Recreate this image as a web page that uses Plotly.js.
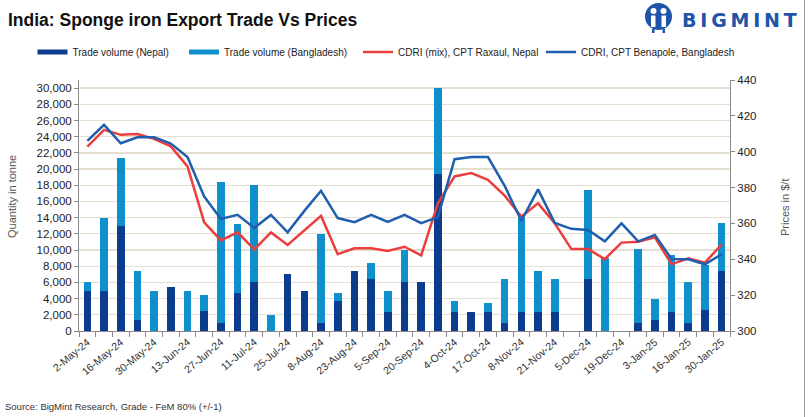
<!DOCTYPE html>
<html>
<head>
<meta charset="utf-8">
<script src="https://cdn.plot.ly/plotly-3.0.1.min.js"></script>
<style>
  html, body { margin: 0; padding: 0; background: #ffffff; }
  #chart { width: 810px; height: 417px; }
</style>
</head>
<body>
<div id="chart"></div>
<script>
// ---------------- data ----------------
const categories = ['2-May-24','9-May-24','16-May-24','23-May-24','30-May-24','6-Jun-24','13-Jun-24','20-Jun-24','27-Jun-24','4-Jul-24','11-Jul-24','18-Jul-24','25-Jul-24','1-Aug-24','8-Aug-24','16-Aug-24','23-Aug-24','30-Aug-24','5-Sep-24','12-Sep-24','20-Sep-24','27-Sep-24','4-Oct-24','10-Oct-24','17-Oct-24','25-Oct-24','8-Nov-24','14-Nov-24','21-Nov-24','28-Nov-24','5-Dec-24','12-Dec-24','19-Dec-24','26-Dec-24','3-Jan-25','9-Jan-25','16-Jan-25','23-Jan-25','30-Jan-25'];

const tickLabels = ['2-May-24','','16-May-24','','30-May-24','','13-Jun-24','','27-Jun-24','','11-Jul-24','','25-Jul-24','','8-Aug-24','','23-Aug-24','','5-Sep-24','','20-Sep-24','','4-Oct-24','','17-Oct-24','','8-Nov-24','','21-Nov-24','','5-Dec-24','','19-Dec-24','','3-Jan-25','','16-Jan-25','','30-Jan-25'];

const volumeNepal = [5000,5000,13000,1400,0,5400,0,2450,1000,4700,6000,0,7000,5000,1000,3700,7400,6400,2400,6000,6000,19400,2400,2400,2400,1000,2400,2400,2400,0,6400,0,0,1000,1400,2400,1000,2600,7400];

const volumeBangladesh = [1000,9000,8400,6000,5000,0,5000,2000,17450,8500,12000,2000,0,0,11000,1000,0,2000,2600,4000,0,10600,1300,0,1000,5400,11600,5000,4000,0,11000,9000,0,9100,2600,7000,5000,5600,6000];

const priceNepal = [402.8,412.2,409.4,409.9,407.2,403,391.8,360.6,350.5,355,345.5,355,348,356.1,364.2,342.8,346.1,346.1,344.6,347,342.2,371.2,386.2,388.1,384.3,375.5,363.8,371.2,360.1,345.7,345.7,340.1,349.3,349.8,352.2,337.2,340.5,338.1,348.3];

const priceBangladesh = [406,415,404.7,408,408,404.5,397,375,362.5,364.8,357.5,364.7,355,367,378.2,363,360.7,364.8,360.8,364.8,360.2,363.5,395.8,397,397,381,361.5,379,360.3,357,356.3,350,360,350,353.6,340.1,340,337.2,342.8];

// ---------------- styling ----------------
const FONT = 'Liberation Sans, Arial, sans-serif';
const C_NEPAL = '#0b3c8e';
const C_BD = '#0f8fcc';
const C_RED = '#ea3f3c';
const C_BLUE = '#1f5fad';

const W = 810, H = 417, ML = 79, MR = 80, MT = 80, MB = 86;
const PW = W - ML - MR, PH = H - MT - MB;
const px = x => (x - ML) / PW;
const py = y => 1 - (y - MT) / PH;

const traces = [
  { type: 'bar', x: categories, y: volumeNepal, name: 'Trade volume (Nepal)', marker: { color: C_NEPAL }, showlegend: false, yaxis: 'y' },
  { type: 'bar', x: categories, y: volumeBangladesh, name: 'Trade volume (Bangladesh)', marker: { color: C_BD }, showlegend: false, yaxis: 'y' },
  { type: 'scatter', mode: 'lines', x: categories, y: priceNepal, name: 'CDRI (mix), CPT Raxaul, Nepal', line: { color: C_RED, width: 2.5 }, yaxis: 'y2', legend: 'legend3' },
  { type: 'scatter', mode: 'lines', x: categories, y: priceBangladesh, name: 'CDRI, CPT Benapole, Bangladesh', line: { color: C_BLUE, width: 2.5 }, yaxis: 'y2', legend: 'legend4' },
  // legend swatches for the bar series
  { type: 'scatter', mode: 'lines', x: [null], y: [null], name: 'Trade volume (Nepal)', line: { color: C_NEPAL, width: 5 }, legend: 'legend', hoverinfo: 'skip' },
  { type: 'scatter', mode: 'lines', x: [null], y: [null], name: 'Trade volume (Bangladesh)', line: { color: C_BD, width: 5 }, legend: 'legend2', hoverinfo: 'skip' }
];

function mkLegend(xText) {
  return {
    orientation: 'h', x: px(xText - 40), xanchor: 'left', y: py(52), yanchor: 'middle',
    font: { family: FONT, size: 10, color: '#222' }, bgcolor: 'rgba(0,0,0,0)', itemwidth: 30,
    itemclick: false, itemdoubleclick: false
  };
}

const shapes = [
  // outer right border
  { type: 'line', xref: 'paper', yref: 'paper', x0: px(804.5), x1: px(804.5), y0: py(0), y1: py(417), line: { color: '#9a9a9a', width: 1 } },
  // logo icon
  { type: 'circle', xref: 'paper', yref: 'paper', x0: px(645), x1: px(672), y0: py(3), y1: py(30), fillcolor: '#1f55a8', line: { width: 0 } },
  { type: 'circle', xref: 'paper', yref: 'paper', x0: px(650.5), x1: px(656.5), y0: py(8), y1: py(14), fillcolor: '#ffffff', line: { width: 0 } },
  { type: 'circle', xref: 'paper', yref: 'paper', x0: px(660.5), x1: px(666.5), y0: py(8), y1: py(14), fillcolor: '#ffffff', line: { width: 0 } },
  { type: 'rect', xref: 'paper', yref: 'paper', x0: px(651), x1: px(655.5), y0: py(15.5), y1: py(27), fillcolor: '#ffffff', line: { width: 0 } },
  { type: 'rect', xref: 'paper', yref: 'paper', x0: px(661.5), x1: px(666), y0: py(15.5), y1: py(27), fillcolor: '#ffffff', line: { width: 0 } },
  { type: 'rect', xref: 'paper', yref: 'paper', x0: px(652), x1: px(654.5), y0: py(29), y1: py(33), fillcolor: '#1f55a8', line: { width: 0 } },
  { type: 'rect', xref: 'paper', yref: 'paper', x0: px(662.5), x1: px(665), y0: py(29), y1: py(33), fillcolor: '#1f55a8', line: { width: 0 } }
];

const annotations = [
  { xref: 'paper', yref: 'paper', x: px(680), y: py(20), xanchor: 'left', yanchor: 'middle', showarrow: false,
    text: '<b>B\u2009I\u2009G\u2009M\u2009I\u2009N\u2009T</b>', font: { family: 'DejaVu Sans, sans-serif', size: 19, color: '#1f55a8' } },
  { xref: 'paper', yref: 'paper', x: px(12), y: py(197), xanchor: 'center', yanchor: 'middle', showarrow: false, textangle: -90,
    text: 'Quantity in tonne', font: { family: FONT, size: 11, color: '#555' } },
  { xref: 'paper', yref: 'paper', x: px(785), y: py(207), xanchor: 'center', yanchor: 'middle', showarrow: false, textangle: -90,
    text: 'Prices in $/t', font: { family: FONT, size: 11, color: '#555' } },
  { xref: 'paper', yref: 'paper', x: px(3), y: py(406), xanchor: 'left', yanchor: 'middle', showarrow: false,
    text: 'Source: BigMint Research, Grade - FeM 80% (+/-1)', font: { family: FONT, size: 9.5, color: '#333' } }
];

const layout = {
  width: W, height: H,
  margin: { l: ML, r: MR, t: MT, b: MB, pad: 0 },
  paper_bgcolor: '#ffffff', plot_bgcolor: '#ffffff',
  font: { family: FONT, size: 11, color: '#222' },
  title: { text: '<b>India: Sponge iron Export Trade Vs Prices</b>', xref: 'container', yref: 'container',
           x: 8 / W, xanchor: 'left', y: 1 - 20 / H, yanchor: 'middle',
           font: { family: FONT, size: 17.5, color: '#111' } },
  barmode: 'stack', bargap: 0.54,
  xaxis: {
    type: 'category', tickmode: 'array', tickvals: categories, ticktext: tickLabels,
    tickangle: -40, tickson: 'boundaries', ticks: 'outside', ticklen: 5, tickcolor: '#8a8a8a',
    showline: true, linecolor: '#8a8a8a', linewidth: 1, showgrid: false, zeroline: false,
    tickfont: { family: FONT, size: 10.5, color: '#333' }, fixedrange: true
  },
  yaxis: {
    range: [0, 31000], tickmode: 'linear', tick0: 0, dtick: 2000, tickformat: ',d',
    showgrid: true, gridcolor: '#e4dfcf', gridwidth: 1.3, zeroline: false,
    showline: true, linecolor: '#8a8a8a', linewidth: 1, ticks: 'outside', ticklen: 4, tickcolor: '#8a8a8a',
    tickfont: { family: FONT, size: 11.5, color: '#222' }, fixedrange: true
  },
  yaxis2: {
    overlaying: 'y', side: 'right', range: [300, 440], tickmode: 'linear', tick0: 300, dtick: 20,
    showgrid: false, zeroline: false, showline: true, linecolor: '#8a8a8a', linewidth: 1,
    ticks: 'outside', ticklen: 4, tickcolor: '#8a8a8a',
    tickfont: { family: FONT, size: 11.5, color: '#222' }, fixedrange: true
  },
  legend: mkLegend(72.5),
  legend2: mkLegend(224),
  legend3: mkLegend(398),
  legend4: mkLegend(581),
  shapes: shapes,
  annotations: annotations
};

Plotly.newPlot('chart', traces, layout, { displayModeBar: false, staticPlot: true });
</script>
</body>
</html>
